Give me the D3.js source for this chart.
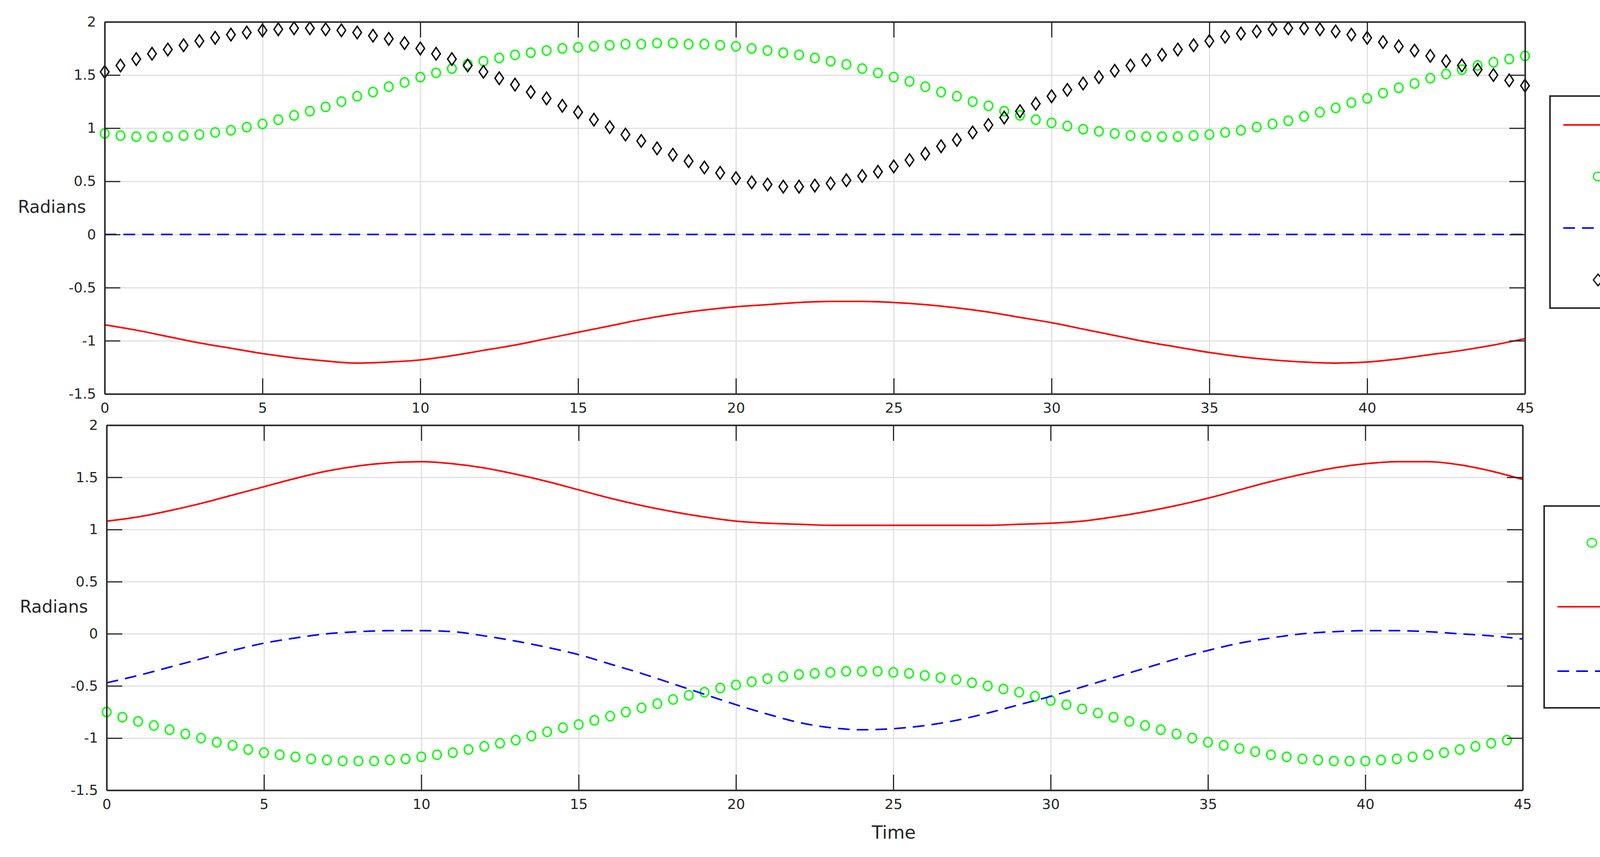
<!DOCTYPE html>
<html><head><meta charset="utf-8">
<script src="https://cdn.jsdelivr.net/npm/d3@7"></script>
<style>html,body{margin:0;padding:0;background:#fff;overflow:hidden}svg{display:block}</style></head>
<body><svg id="c" width="4341" height="2195"></svg>
<script>
const xTicks=[0,5,10,15,20,25,30,35,40,45];
const yTicks=[-1.5,-1,-0.5,0,0.5,1,1.5,2];
const yTickLabels=["-1.5","-1","-0.5","0","0.5","1","1.5","2"];
const tLine=d3.range(0,46,1);
const tDots=d3.range(0,45.01,0.5);
const tDots5=d3.range(0,44.51,0.5);
const q1=[-0.85,-0.90,-0.96,-1.02,-1.07,-1.12,-1.16,-1.19,-1.21,-1.20,-1.18,-1.14,-1.09,-1.04,-0.98,-0.92,-0.86,-0.80,-0.75,-0.71,-0.68,-0.66,-0.64,-0.63,-0.63,-0.64,-0.66,-0.69,-0.73,-0.78,-0.83,-0.89,-0.95,-1.01,-1.06,-1.11,-1.15,-1.18,-1.20,-1.21,-1.20,-1.17,-1.13,-1.09,-1.04,-0.98];
const q2=[0.95,0.93,0.92,0.92,0.92,0.93,0.94,0.96,0.98,1.01,1.04,1.08,1.12,1.16,1.20,1.25,1.30,1.34,1.39,1.43,1.48,1.52,1.56,1.60,1.63,1.66,1.69,1.71,1.73,1.75,1.76,1.77,1.78,1.79,1.79,1.80,1.80,1.79,1.79,1.78,1.77,1.75,1.73,1.71,1.69,1.66,1.63,1.60,1.56,1.52,1.48,1.44,1.39,1.34,1.30,1.25,1.21,1.16,1.12,1.08,1.05,1.02,0.99,0.97,0.95,0.93,0.92,0.92,0.92,0.93,0.94,0.96,0.98,1.01,1.04,1.07,1.11,1.15,1.19,1.24,1.28,1.33,1.38,1.42,1.47,1.51,1.55,1.59,1.62,1.65,1.68];
const q3=tLine.map(()=>0);
const q4=[1.53,1.59,1.65,1.70,1.74,1.78,1.82,1.85,1.88,1.90,1.92,1.93,1.94,1.94,1.93,1.92,1.90,1.87,1.84,1.80,1.75,1.70,1.65,1.59,1.53,1.47,1.41,1.34,1.28,1.21,1.15,1.08,1.01,0.94,0.88,0.81,0.75,0.69,0.63,0.58,0.53,0.49,0.47,0.45,0.45,0.46,0.48,0.51,0.55,0.59,0.64,0.70,0.76,0.83,0.89,0.96,1.03,1.10,1.16,1.23,1.30,1.36,1.42,1.48,1.54,1.59,1.64,1.69,1.74,1.78,1.82,1.86,1.89,1.91,1.93,1.94,1.94,1.93,1.91,1.88,1.85,1.81,1.77,1.73,1.68,1.63,1.59,1.55,1.50,1.45,1.40];
const q5=[-0.75,-0.80,-0.84,-0.88,-0.92,-0.96,-1.00,-1.04,-1.07,-1.11,-1.14,-1.16,-1.18,-1.20,-1.21,-1.22,-1.22,-1.22,-1.21,-1.20,-1.18,-1.16,-1.14,-1.11,-1.08,-1.05,-1.02,-0.98,-0.94,-0.90,-0.87,-0.83,-0.79,-0.75,-0.71,-0.67,-0.63,-0.59,-0.56,-0.52,-0.49,-0.46,-0.43,-0.41,-0.39,-0.38,-0.37,-0.36,-0.36,-0.36,-0.37,-0.38,-0.40,-0.42,-0.44,-0.47,-0.50,-0.53,-0.56,-0.60,-0.64,-0.68,-0.72,-0.76,-0.80,-0.84,-0.88,-0.92,-0.96,-1.00,-1.04,-1.07,-1.10,-1.13,-1.16,-1.18,-1.20,-1.21,-1.22,-1.22,-1.22,-1.21,-1.20,-1.18,-1.16,-1.14,-1.11,-1.08,-1.05,-1.02];
const q6=[1.08,1.12,1.18,1.25,1.33,1.41,1.49,1.56,1.61,1.64,1.65,1.63,1.59,1.53,1.46,1.38,1.30,1.23,1.17,1.12,1.08,1.06,1.05,1.04,1.04,1.04,1.04,1.04,1.04,1.05,1.06,1.08,1.12,1.17,1.23,1.30,1.38,1.46,1.53,1.59,1.63,1.65,1.65,1.62,1.56,1.48];
const q7=[-0.47,-0.40,-0.32,-0.24,-0.16,-0.09,-0.04,0.00,0.02,0.03,0.03,0.02,-0.02,-0.07,-0.13,-0.20,-0.29,-0.38,-0.48,-0.58,-0.68,-0.77,-0.85,-0.90,-0.92,-0.91,-0.88,-0.83,-0.76,-0.68,-0.60,-0.51,-0.42,-0.33,-0.24,-0.16,-0.09,-0.04,0.00,0.02,0.03,0.03,0.02,0.00,-0.02,-0.05];

const svg=d3.select("#c");
const font="'DejaVu Sans', sans-serif";
const RED="#ff0000",GREEN="#00ff00",BLUE="#0000ff";

function panel(o){
  const x=d3.scaleLinear().domain([0,45]).range([o.l,o.r]);
  const y=d3.scaleLinear().domain([-1.5,2]).range([o.b,o.t]);
  const g=svg.append("g");
  g.append("g").attr("transform",`translate(0,${o.b})`).call(d3.axisBottom(x).tickValues(xTicks).tickSize(-(o.b-o.t)).tickFormat(""))
    .call(s=>{s.select(".domain").remove();s.selectAll("line").attr("stroke","#e0e0e0").attr("stroke-width",3);});
  g.append("g").attr("transform",`translate(${o.l},0)`).call(d3.axisLeft(y).tickValues(yTicks).tickSize(-(o.r-o.l)).tickFormat(""))
    .call(s=>{s.select(".domain").remove();s.selectAll("line").attr("stroke","#e0e0e0").attr("stroke-width",3);});
  const clip="clip"+o.id;
  svg.append("clipPath").attr("id",clip).append("rect").attr("x",o.l-20).attr("y",o.t-20).attr("width",o.r-o.l+40).attr("height",o.b-o.t+40);
  const d=g.append("g").attr("clip-path",`url(#${clip})`);
  o.series.forEach(s=>{
    if(s.type==="line"){
      d.append("path").datum(s.v).attr("fill","none").attr("stroke",s.c).attr("stroke-width",4)
        .attr("stroke-dasharray",s.dash?"30,18":null)
        .attr("d",d3.line().x((v,i)=>x(s.t[i])).y(v=>y(v)).curve(d3.curveMonotoneX));
    } else if(s.type==="circle"){
      d.selectAll(null).data(s.v).join("ellipse").attr("cx",(v,i)=>x(s.t[i])).attr("cy",v=>y(v)).attr("rx",11).attr("ry",12)
        .attr("fill","none").attr("stroke",s.c).attr("stroke-width",3.5);
    } else {
      d.selectAll(null).data(s.v).join("path").attr("transform",(v,i)=>`translate(${x(s.t[i])},${y(v)})`)
        .attr("d","M0,-16L11,0L0,16L-11,0Z").attr("fill","none").attr("stroke",s.c).attr("stroke-width",3.5);
    }
  });
  const ax=(gen,tr)=>g.append("g").attr("transform",tr).call(gen).call(s=>{
    s.select(".domain").attr("stroke","#262626").attr("stroke-width",4);
    s.selectAll(".tick line").attr("stroke","#262626").attr("stroke-width",3);
    s.selectAll("text").attr("font-family",font).attr("font-size",36).attr("fill","#262626");
  });
  const tf=v=>yTickLabels[yTicks.indexOf(v)];
  ax(d3.axisBottom(x).tickValues(xTicks).tickSizeInner(-40).tickSizeOuter(0).tickPadding(22),`translate(0,${o.b})`);
  ax(d3.axisTop(x).tickValues(xTicks).tickSizeInner(-40).tickSizeOuter(0).tickFormat(""),`translate(0,${o.t})`);
  ax(d3.axisLeft(y).tickValues(yTicks).tickSizeInner(-40).tickSizeOuter(0).tickPadding(22).tickFormat(tf),`translate(${o.l},0)`);
  ax(d3.axisRight(y).tickValues(yTicks).tickSizeInner(-40).tickSizeOuter(0).tickFormat(""),`translate(${o.r},0)`);
  svg.append("text").attr("x",o.l-135).attr("y",y(0.25)).attr("text-anchor","middle").attr("dominant-baseline","middle")
    .attr("font-family",font).attr("font-size",44).attr("fill","#262626").text("Radians");
  const L=o.leg;
  svg.append("rect").attr("x",L.x).attr("y",L.y).attr("width",L.w).attr("height",L.h).attr("fill","#fff").attr("stroke","#262626").attr("stroke-width",4);
  o.series.forEach((s,i)=>{
    const cy=L.items[i], cx0=L.x+L.lx0, cx1=L.x+L.lx1, cm=(cx0+cx1)/2;
    if(s.type==="line") svg.append("line").attr("x1",cx0).attr("x2",cx1).attr("y1",cy).attr("y2",cy).attr("stroke",s.c).attr("stroke-width",4).attr("stroke-dasharray",s.dash?"30,18":null);
    else if(s.type==="circle") svg.append("ellipse").attr("cx",cm).attr("cy",cy).attr("rx",12).attr("ry",11).attr("fill","none").attr("stroke",s.c).attr("stroke-width",3);
    else svg.append("path").attr("transform",`translate(${cm},${cy})`).attr("d","M0,-15L12,0L0,15L-12,0Z").attr("fill","none").attr("stroke",s.c).attr("stroke-width",3);
    const t=svg.append("text").attr("x",L.x+L.tx).attr("y",cy+14).attr("font-family","'Liberation Sans', Arial, sans-serif").attr("font-style","italic").attr("font-size",62).attr("fill","#000");
    t.append("tspan").text("q");
    t.append("tspan").attr("dx",4).attr("dy",28).attr("font-size",44).text(s.n.slice(1));
  });
}

panel({id:1,l:268,r:3904,t:56,b:1009,
  series:[{n:"q1",type:"line",t:tLine,v:q1,c:RED},{n:"q2",type:"circle",t:tDots,v:q2,c:GREEN},{n:"q3",type:"line",t:tLine,v:q3,c:BLUE,dash:true},{n:"q4",type:"diamond",t:tDots,v:q4,c:"#000"}],
  leg:{x:3968,y:246,w:336,h:543,items:[320,452,584,717],lx0:34,lx1:212,tx:228}});
panel({id:2,l:273,r:3898,t:1089,b:2024,
  series:[{n:"q5",type:"circle",t:tDots5,v:q5,c:GREEN},{n:"q6",type:"line",t:tLine,v:q6,c:RED},{n:"q7",type:"line",t:tLine,v:q7,c:BLUE,dash:true}],
  leg:{x:3953,y:1296,w:335,h:517,items:[1390,1554,1719],lx0:34,lx1:210,tx:228}});
svg.append("text").attr("x",2288).attr("y",2135).attr("text-anchor","middle").attr("dominant-baseline","middle")
  .attr("font-family",font).attr("font-size",46).attr("fill","#262626").text("Time");
</script></body></html>
